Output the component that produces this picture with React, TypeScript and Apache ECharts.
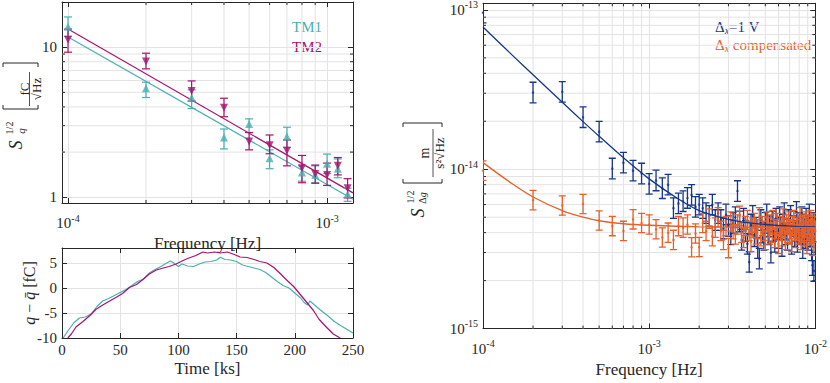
import React, { useEffect, useRef } from 'react';
import * as echarts from 'echarts';

const FONT = 'Liberation Serif';
const TXT = '#262626';
const AXIS = '#262626';
const GRID = '#e3e3e3';
const TEAL = '#4AAFAF';
const MAGENTA = '#A5126F';
const BLUE = '#15368A';
const ORANGE = '#E5602A';

// ---- top-left: charge noise ASD ----
const TM_FREQ = [1e-4, 2e-4, 3e-4, 4e-4, 5e-4, 6e-4, 7e-4, 8e-4, 9e-4, 1e-3, 1.1e-3, 1.2e-3];
const TM1_VAL = [13.7, 5.33, 4.6, 2.5, 3.08, 1.82, 2.54, 1.46, 1.41, 1.67, 1.55, 1.05];
const TM1_LO = [11.8, 4.62, 3.9, 2.1, 2.7, 1.55, 2.15, 1.28, 1.25, 1.44, 1.35, 0.94];
const TM1_HI = [15.9, 5.84, 5.2, 2.85, 3.33, 2.07, 2.93, 1.62, 1.62, 1.94, 1.8, 1.15];
const TM2_VAL = [11.2, 8.02, 5.1, 3.95, 2.35, 2.22, 2.04, 1.56, 1.43, 1.41, 1.62, 1.15];
const TM2_LO = [9.26, 7.17, 4.38, 3.44, 2.07, 1.95, 1.62, 1.25, 1.24, 1.2, 1.41, 0.99];
const TM2_HI = [13.2, 9.12, 5.96, 4.57, 2.7, 2.6, 2.41, 1.9, 1.64, 1.69, 1.84, 1.33];
const TM_FIT_FREQ = [1e-4, 1.259e-3];
const TM1_FIT = [11.7, 0.97];
const TM2_FIT = [13.2, 1.07];

// ---- bottom-left: charge time series ----
const TIME_TM1 = [1, 5, 10, 15, 20, 25, 30, 35, 40, 45, 50, 55, 60, 65, 70, 75, 80, 85, 90, 93, 96, 100, 103, 108, 113, 118, 123, 128, 133, 136, 140, 145, 150, 155, 160, 165, 170, 175, 180, 185, 190, 195, 200, 205, 208, 211, 213, 217, 222, 228, 234, 240, 245, 250];
const Q_TM1 = [-10, -8.6, -7.0, -6.0, -5.8, -5.2, -3.7, -2.6, -2.1, -1.5, -0.9, -0.3, 0.5, 1.3, 1.8, 3.0, 3.7, 4.3, 5.0, 5.4, 5.0, 4.3, 4.8, 4.4, 4.3, 4.8, 5.2, 5.3, 5.6, 6.15, 5.7, 5.6, 5.3, 4.6, 4.3, 4.0, 3.7, 3.1, 2.2, 1.3, 0.5, 0.0, -1.0, -2.0, -2.9, -3.4, -2.6, -3.4, -4.4, -5.5, -6.7, -7.6, -8.3, -9.0];
const TIME_TM2 = [5, 8, 12, 18, 24, 29, 35, 41, 47, 52, 58, 64, 69, 75, 81, 87, 92, 98, 104, 109, 115, 121, 125, 131, 136, 142, 148, 153, 159, 165, 170, 176, 182, 187, 193, 199, 204, 210, 216, 221, 227, 233, 239];
const Q_TM2 = [-10, -9.2, -7.8, -6.7, -5.5, -4.3, -3.4, -2.6, -1.8, -1.1, 0.1, 0.7, 1.6, 2.8, 3.6, 4.0, 4.3, 4.8, 5.5, 6.0, 6.5, 7.2, 7.0, 7.2, 7.0, 7.2, 6.7, 6.2, 6.1, 5.7, 5.3, 5.0, 4.1, 3.0, 1.6, 0.3, -1.1, -2.8, -4.5, -6.3, -7.8, -9.2, -10];

// ---- right: acceleration ASD ----
const DG_FREQ = Array.from({ length: 100 }, (_, i) => +((i + 1) * 1e-4).toPrecision(3));
const BLUE_VAL = [
  9.6e-14, 3.03e-14, 3.06e-14, 2.12e-14, 1.72e-14, 1.01e-14, 1.1e-14, 9.8e-15, 9.4e-15, 8.1e-15,
  8.5e-15, 7.6e-15, 8.0e-15, 5.7e-15, 6.1e-15, 6.3e-15, 6.6e-15, 6.9e-15, 5.8e-15, 6.0e-15,
  5.7e-15, 5.3e-15, 5.1e-15, 6.0e-15, 4.8e-15, 5.3e-15, 4.8e-15, 4.25e-15, 5.2e-15, 4.4e-15,
  3.9e-15, 4.6e-15, 5.0e-15, 7.3e-15, 4.7e-15, 3.6e-15, 4.9e-15, 4.1e-15, 3.4e-15, 2.62e-15,
  4.5e-15, 5.1e-15, 3.8e-15, 4.3e-15, 3.2e-15, 2.75e-15, 4.8e-15, 4.0e-15, 3.6e-15, 4.6e-15,
  5.2e-15, 3.9e-15, 4.4e-15, 3.0e-15, 4.7e-15, 4.1e-15, 3.5e-15, 4.9e-15, 4.2e-15, 3.7e-15,
  5.0e-15, 4.3e-15, 3.3e-15, 4.5e-15, 5.3e-15, 3.9e-15, 4.2e-15, 3.6e-15, 4.8e-15, 4.0e-15,
  5.1e-15, 3.4e-15, 4.4e-15, 4.7e-15, 3.8e-15, 4.1e-15, 5.4e-15, 3.5e-15, 4.3e-15, 4.6e-15,
  3.9e-15, 4.0e-15, 5.0e-15, 3.2e-15, 4.5e-15, 4.2e-15, 3.7e-15, 4.9e-15, 4.1e-15, 3.6e-15,
  4.4e-15, 5.2e-15, 3.8e-15, 4.3e-15, 3.1e-15, 2.5e-15, 4.6e-15, 2.3e-15, 4.0e-15, 3.5e-15,
];
const ORANGE_VAL = [
  9.8e-15, 6.4e-15, 5.92e-15, 6.05e-15, 4.77e-15, 4.4e-15, 4.1e-15, 4.85e-15, 4.6e-15, 4.5e-15,
  4.2e-15, 3.73e-15, 4.0e-15, 3.6e-15, 4.4e-15, 4.3e-15, 4.5e-15, 3.24e-15, 3.95e-15, 3.25e-15,
  4.6e-15, 4.1e-15, 4.9e-15, 3.8e-15, 4.3e-15, 5.0e-15, 4.1e-15, 3.6e-15, 4.4e-15, 3.2e-15,
  4.7e-15, 4.2e-15, 3.9e-15, 4.5e-15, 5.1e-15, 4.0e-15, 3.7e-15, 4.4e-15, 4.8e-15, 4.1e-15,
  3.5e-15, 4.3e-15, 4.6e-15, 3.9e-15, 4.2e-15, 5.0e-15, 3.8e-15, 4.4e-15, 4.1e-15, 3.6e-15,
  4.7e-15, 4.3e-15, 3.9e-15, 4.5e-15, 4.0e-15, 4.8e-15, 3.7e-15, 4.2e-15, 4.6e-15, 3.4e-15,
  4.4e-15, 4.1e-15, 3.8e-15, 4.9e-15, 4.3e-15, 3.6e-15, 4.5e-15, 4.0e-15, 4.7e-15, 3.9e-15,
  4.2e-15, 3.5e-15, 4.4e-15, 4.8e-15, 4.1e-15, 3.7e-15, 4.3e-15, 4.6e-15, 3.9e-15, 4.2e-15,
  5.0e-15, 3.6e-15, 4.4e-15, 4.0e-15, 4.5e-15, 3.8e-15, 4.3e-15, 4.7e-15, 3.4e-15, 4.1e-15,
  4.5e-15, 3.9e-15, 4.2e-15, 4.8e-15, 3.7e-15, 4.4e-15, 4.0e-15, 3.3e-15, 4.6e-15, 4.1e-15,
];
const BLUE_ERR_RATIO = 1.16;
const ORANGE_ERR_RATIO = 1.15;
const BLUE_FIT_FREQ = [1e-4, 1.5e-4, 2e-4, 3e-4, 4e-4, 5e-4, 7e-4, 1e-3, 1.5e-3, 2e-3, 3e-3, 4e-3, 5e-3, 7e-3, 1e-2];
const BLUE_FIT_VAL = [7.8e-14, 5.2e-14, 3.92e-14, 2.63e-14, 1.99e-14, 1.61e-14, 1.18e-14, 8.7e-15, 6.5e-15, 5.5e-15, 4.85e-15, 4.6e-15, 4.5e-15, 4.4e-15, 4.35e-15];
const ORANGE_FIT_FREQ = [1e-4, 1.5e-4, 2e-4, 3e-4, 4e-4, 5e-4, 7e-4, 1e-3, 2e-3, 5e-3, 1e-2];
const ORANGE_FIT_VAL = [1.1e-14, 8.1e-15, 6.7e-15, 5.5e-15, 5.0e-15, 4.75e-15, 4.55e-15, 4.45e-15, 4.35e-15, 4.32e-15, 4.3e-15];

const MINOR_MULT = [2, 3, 4, 5, 6, 7, 8, 9];

const isPow10 = (v: number) => Math.abs(Math.log10(v) - Math.round(Math.log10(v))) < 1e-6;
const sciLabel = (v: number) => (isPow10(v) ? `{b|10}{s|${Math.round(Math.log10(v))}}` : '');
const plainLabel = (v: number) => (isPow10(v) ? `{b|${Math.round(v)}}` : '');
const RICH = {
  b: { fontFamily: FONT, fontSize: 15, color: TXT, lineHeight: 20 },
  s: { fontFamily: FONT, fontSize: 10, color: TXT, verticalAlign: 'top', lineHeight: 11 },
};

const axisLine = { show: true, onZero: false, lineStyle: { color: AXIS, width: 1 } };
const axisTick = { show: true, inside: true, length: 5, lineStyle: { color: AXIS, width: 1 } };
const splitLine = { show: true, lineStyle: { color: GRID, width: 1 } };
const nameStyle = { fontFamily: FONT, fontSize: 17, color: TXT };

function errorBars(color: string, cap: number, lw: number) {
  return (params: any, api: any) => {
    const x = api.value(0);
    const lo = api.coord([x, api.value(1)]);
    const hi = api.coord([x, api.value(2)]);
    const style = { stroke: color, lineWidth: lw, fill: 'none' };
    return {
      type: 'group',
      children: [
        { type: 'line', shape: { x1: lo[0], y1: lo[1], x2: hi[0], y2: hi[1] }, style },
        { type: 'line', shape: { x1: lo[0] - cap, y1: lo[1], x2: lo[0] + cap, y2: lo[1] }, style },
        { type: 'line', shape: { x1: hi[0] - cap, y1: hi[1], x2: hi[0] + cap, y2: hi[1] }, style },
      ],
    };
  };
}

function minorGrid(xi: number, yi: number, values: number[], ref: number, dir: 'x' | 'y') {
  return {
    type: 'custom',
    xAxisIndex: xi,
    yAxisIndex: yi,
    silent: true,
    z: 1,
    data: values.map((v) => (dir === 'x' ? [v, ref] : [ref, v])),
    renderItem: (params: any, api: any) => {
      const cs = params.coordSys;
      const p = api.coord([api.value(0), api.value(1)]);
      const g = { stroke: GRID, lineWidth: 1 };
      const t = { stroke: AXIS, lineWidth: 1 };
      if (dir === 'x') {
        const px = p[0];
        return {
          type: 'group',
          children: [
            { type: 'line', shape: { x1: px, y1: cs.y, x2: px, y2: cs.y + cs.height }, style: g },
            { type: 'line', shape: { x1: px, y1: cs.y + cs.height, x2: px, y2: cs.y + cs.height - 3 }, style: t },
            { type: 'line', shape: { x1: px, y1: cs.y, x2: px, y2: cs.y + 3 }, style: t },
          ],
        };
      }
      const py = p[1];
      return {
        type: 'group',
        children: [
          { type: 'line', shape: { x1: cs.x, y1: py, x2: cs.x + cs.width, y2: py }, style: g },
          { type: 'line', shape: { x1: cs.x, y1: py, x2: cs.x + 3, y2: py }, style: t },
          { type: 'line', shape: { x1: cs.x + cs.width, y1: py, x2: cs.x + cs.width - 3, y2: py }, style: t },
        ],
      };
    },
  };
}

function decadesMinor(decades: number[]) {
  const out: number[] = [];
  decades.forEach((d) => MINOR_MULT.forEach((m) => out.push(+(m * d).toPrecision(3))));
  return out;
}

function rot(text: string, x: number, y: number, size: number, italic = false, extra: any = {}) {
  return {
    type: 'text',
    x,
    y,
    rotation: Math.PI / 2,
    style: {
      text,
      fontFamily: FONT,
      fontSize: size,
      fontStyle: italic ? 'italic' : 'normal',
      fill: TXT,
      align: 'center',
      verticalAlign: 'middle',
      ...extra,
    },
  };
}

function bracket(x1: number, x2: number, yb: number, yt: number) {
  const s = { stroke: TXT, lineWidth: 1, fill: 'none' };
  return [
    { type: 'polyline', shape: { points: [[x1, yb - 4], [x1, yb], [x2, yb], [x2, yb - 4]] }, style: s },
    { type: 'polyline', shape: { points: [[x1, yt + 4], [x1, yt], [x2, yt], [x2, yt + 4]] }, style: s },
  ];
}

function buildOption(): any {
  const logX = (gi: number, min: number, max: number, bottom: boolean, extra: any = {}) => ({
    type: 'log',
    logBase: 10,
    gridIndex: gi,
    position: bottom ? 'bottom' : 'top',
    min,
    max,
    axisLine,
    axisTick,
    splitLine: bottom ? splitLine : { show: false },
    minorTick: { show: false },
    minorSplitLine: { show: false },
    axisLabel: bottom ? { formatter: sciLabel, rich: RICH, margin: 10 } : { show: false },
    ...extra,
  });
  const logY = (gi: number, min: number, max: number, left: boolean, fmt: any, extra: any = {}) => ({
    type: 'log',
    logBase: 10,
    gridIndex: gi,
    position: left ? 'left' : 'right',
    min,
    max,
    axisLine,
    axisTick,
    splitLine: left ? splitLine : { show: false },
    minorTick: { show: false },
    minorSplitLine: { show: false },
    axisLabel: left ? { formatter: fmt, rich: RICH, margin: 5 } : { show: false },
    ...extra,
  });

  const tm1Err = TM_FREQ.map((f, i) => [f, TM1_LO[i], TM1_HI[i]]);
  const tm2Err = TM_FREQ.map((f, i) => [f, TM2_LO[i], TM2_HI[i]]);
  const blueErr = DG_FREQ.map((f, i) => [f, BLUE_VAL[i] / BLUE_ERR_RATIO, BLUE_VAL[i] * BLUE_ERR_RATIO]);
  const orangeErr = DG_FREQ.map((f, i) => [f, ORANGE_VAL[i] / ORANGE_ERR_RATIO, ORANGE_VAL[i] * ORANGE_ERR_RATIO]);

  const rightLegendRich = (color: string) => ({
    d: { fontFamily: FONT, fontSize: 15, fill: color, lineHeight: 17 },
    x: { fontFamily: FONT, fontSize: 10, fontStyle: 'italic', fill: color, verticalAlign: 'bottom', lineHeight: 11 },
  });

  return {
    animation: false,
    backgroundColor: '#ffffff',
    textStyle: { fontFamily: FONT },
    grid: [
      { left: 62, top: 2, width: 291, height: 201 },
      { left: 62, top: 248, width: 291, height: 90 },
      { left: 483, top: 2, width: 334, height: 333 },
    ],
    xAxis: [
      logX(0, 9.48e-5, 1.259e-3, true, { name: 'Frequency [Hz]', nameLocation: 'middle', nameGap: 24, nameTextStyle: nameStyle }),
      logX(0, 9.48e-5, 1.259e-3, false),
      {
        type: 'value', gridIndex: 1, position: 'bottom', min: 0, max: 250, interval: 50,
        axisLine, axisTick, splitLine,
        axisLabel: { fontFamily: FONT, fontSize: 15, color: TXT, margin: 4 },
        name: 'Time [ks]', nameLocation: 'middle', nameGap: 22, nameTextStyle: nameStyle,
      },
      { type: 'value', gridIndex: 1, position: 'top', min: 0, max: 250, interval: 50, axisLine, axisTick, splitLine: { show: false }, axisLabel: { show: false } },
      logX(2, 1e-4, 1e-2, true, { name: 'Frequency [Hz]', nameLocation: 'middle', nameGap: 32, nameTextStyle: nameStyle }),
      logX(2, 1e-4, 1e-2, false),
    ],
    yAxis: [
      logY(0, 0.916, 20, true, plainLabel),
      logY(0, 0.916, 20, false, plainLabel),
      {
        type: 'value', gridIndex: 1, position: 'left', min: -10, max: 8, interval: 5,
        axisLine, axisTick, splitLine,
        axisLabel: { fontFamily: FONT, fontSize: 15, color: TXT, margin: 5, showMaxLabel: false },
      },
      { type: 'value', gridIndex: 1, position: 'right', min: -10, max: 8, interval: 5, axisLine, axisTick, splitLine: { show: false }, axisLabel: { show: false } },
      logY(2, 1e-15, 1.1e-13, true, sciLabel),
      logY(2, 1e-15, 1.1e-13, false, sciLabel),
    ],
    series: [
      minorGrid(0, 0, decadesMinor([1e-4]), 1, 'x'),
      minorGrid(0, 0, decadesMinor([1]), 1e-4, 'y'),
      minorGrid(4, 4, decadesMinor([1e-4, 1e-3]), 1e-14, 'x'),
      minorGrid(4, 4, decadesMinor([1e-15, 1e-14]), 1e-3, 'y'),
      {
        type: 'line', name: 'TM1 fit', xAxisIndex: 0, yAxisIndex: 0, z: 3, showSymbol: false, silent: true,
        data: TM_FIT_FREQ.map((f, i) => [f, TM1_FIT[i]]), lineStyle: { color: TEAL, width: 1.2 },
      },
      {
        type: 'line', name: 'TM2 fit', xAxisIndex: 0, yAxisIndex: 0, z: 3, showSymbol: false, silent: true,
        data: TM_FIT_FREQ.map((f, i) => [f, TM2_FIT[i]]), lineStyle: { color: MAGENTA, width: 1.2 },
      },
      { type: 'custom', name: 'TM1 err', xAxisIndex: 0, yAxisIndex: 0, z: 4, data: tm1Err, renderItem: errorBars(TEAL, 4, 1.2), encode: { x: 0, y: [1, 2] } },
      { type: 'custom', name: 'TM2 err', xAxisIndex: 0, yAxisIndex: 0, z: 4, data: tm2Err, renderItem: errorBars(MAGENTA, 4, 1.2), encode: { x: 0, y: [1, 2] } },
      {
        type: 'scatter', name: 'TM1', xAxisIndex: 0, yAxisIndex: 0, z: 5, symbol: 'triangle', symbolSize: 8,
        data: TM_FREQ.map((f, i) => [f, TM1_VAL[i]]), itemStyle: { color: TEAL },
      },
      {
        type: 'scatter', name: 'TM2', xAxisIndex: 0, yAxisIndex: 0, z: 5, symbol: 'triangle', symbolRotate: 180, symbolSize: 8,
        data: TM_FREQ.map((f, i) => [f, TM2_VAL[i]]), itemStyle: { color: MAGENTA },
      },
      {
        type: 'line', name: 'TM1 q', xAxisIndex: 2, yAxisIndex: 2, z: 3, showSymbol: false, silent: true,
        data: TIME_TM1.map((t, i) => [t, Q_TM1[i]]), lineStyle: { color: TEAL, width: 1.2 },
      },
      {
        type: 'line', name: 'TM2 q', xAxisIndex: 2, yAxisIndex: 2, z: 3, showSymbol: false, silent: true,
        data: TIME_TM2.map((t, i) => [t, Q_TM2[i]]), lineStyle: { color: MAGENTA, width: 1.2 },
      },
      { type: 'custom', name: 'blue err', xAxisIndex: 4, yAxisIndex: 4, z: 3, clip: true, data: blueErr, renderItem: errorBars(BLUE, 3.5, 1.3), encode: { x: 0, y: [1, 2] } },
      {
        type: 'scatter', name: 'blue', xAxisIndex: 4, yAxisIndex: 4, z: 3, symbolSize: 2.5, clip: true,
        data: DG_FREQ.map((f, i) => [f, BLUE_VAL[i]]), itemStyle: { color: BLUE },
      },
      { type: 'custom', name: 'orange err', xAxisIndex: 4, yAxisIndex: 4, z: 4, clip: true, data: orangeErr, renderItem: errorBars(ORANGE, 3.5, 1.3), encode: { x: 0, y: [1, 2] } },
      {
        type: 'scatter', name: 'orange', xAxisIndex: 4, yAxisIndex: 4, z: 4, symbolSize: 2.5, clip: true,
        data: DG_FREQ.map((f, i) => [f, ORANGE_VAL[i]]), itemStyle: { color: ORANGE },
      },
      {
        type: 'line', name: 'blue fit', xAxisIndex: 4, yAxisIndex: 4, z: 5, showSymbol: false, silent: true, smooth: 0.3,
        data: BLUE_FIT_FREQ.map((f, i) => [f, BLUE_FIT_VAL[i]]), lineStyle: { color: BLUE, width: 1.3 },
      },
      {
        type: 'line', name: 'orange fit', xAxisIndex: 4, yAxisIndex: 4, z: 5, showSymbol: false, silent: true, smooth: 0.3,
        data: ORANGE_FIT_FREQ.map((f, i) => [f, ORANGE_FIT_VAL[i]]), lineStyle: { color: ORANGE, width: 1.3 },
      },
    ],
    graphic: [
      // top-left y label
      rot('S', 16, 145, 18, true),
      rot('1/2', 9, 128, 10),
      rot('q', 21, 131, 11, true),
      ...bracket(3, 38, 109, 63),
      rot('fC', 24.5, 89, 13),
      { type: 'line', shape: { x1: 29.5, y1: 72, x2: 29.5, y2: 106 }, style: { stroke: TXT, lineWidth: 0.8 } },
      rot('√Hz', 36, 89, 13),
      // bottom-left y label
      {
        type: 'text', x: 29, y: 293, rotation: Math.PI / 2,
        style: {
          text: '{i|q} − {i|q\u0304} [fC]', align: 'center', verticalAlign: 'middle', fill: TXT,
          fontFamily: FONT, fontSize: 16,
          rich: { i: { fontFamily: FONT, fontSize: 16, fontStyle: 'italic', fill: TXT } },
        },
      },
      // right y label
      rot('S', 418, 213, 18, true),
      rot('1/2', 410, 197, 10),
      {
        type: 'text', x: 422, y: 198, rotation: Math.PI / 2,
        style: {
          text: '{a|Δ}{b|g}', align: 'center', verticalAlign: 'middle', fill: TXT,
          rich: {
            a: { fontFamily: FONT, fontSize: 10, fill: TXT },
            b: { fontFamily: FONT, fontSize: 10, fontStyle: 'italic', fill: TXT },
          },
        },
      },
      ...bracket(403, 442, 183, 123),
      rot('m', 424.5, 153, 14),
      { type: 'line', shape: { x1: 433, y1: 129, x2: 433, y2: 177 }, style: { stroke: TXT, lineWidth: 0.8 } },
      rot('s²√Hz', 439.5, 153, 13),
      // legends
      { type: 'text', x: 292, y: 27, style: { text: 'TM1', fontFamily: FONT, fontSize: 15, fill: TEAL, align: 'left', verticalAlign: 'middle' } },
      { type: 'text', x: 292, y: 47, style: { text: 'TM2', fontFamily: FONT, fontSize: 15, fill: MAGENTA, align: 'left', verticalAlign: 'middle' } },
      {
        type: 'text', x: 715, y: 27,
        style: { text: '{d|Δ}{x|x}{d|=1 V}', fill: BLUE, align: 'left', verticalAlign: 'middle', rich: rightLegendRich(BLUE) },
      },
      {
        type: 'text', x: 715, y: 45,
        style: { text: '{d|Δ}{x|x}{d| compensated}', fill: ORANGE, align: 'left', verticalAlign: 'middle', rich: rightLegendRich(ORANGE) },
      },
    ],
  };
}

export default function App() {
  const ref = useRef<HTMLDivElement>(null);
  useEffect(() => {
    document.body.style.margin = '0';
    const chart = echarts.init(ref.current as HTMLDivElement, null, { renderer: 'svg' });
    chart.setOption(buildOption());
    return () => chart.dispose();
  }, []);
  return <div ref={ref} style={{ width: 830, height: 383 }} />;
}
